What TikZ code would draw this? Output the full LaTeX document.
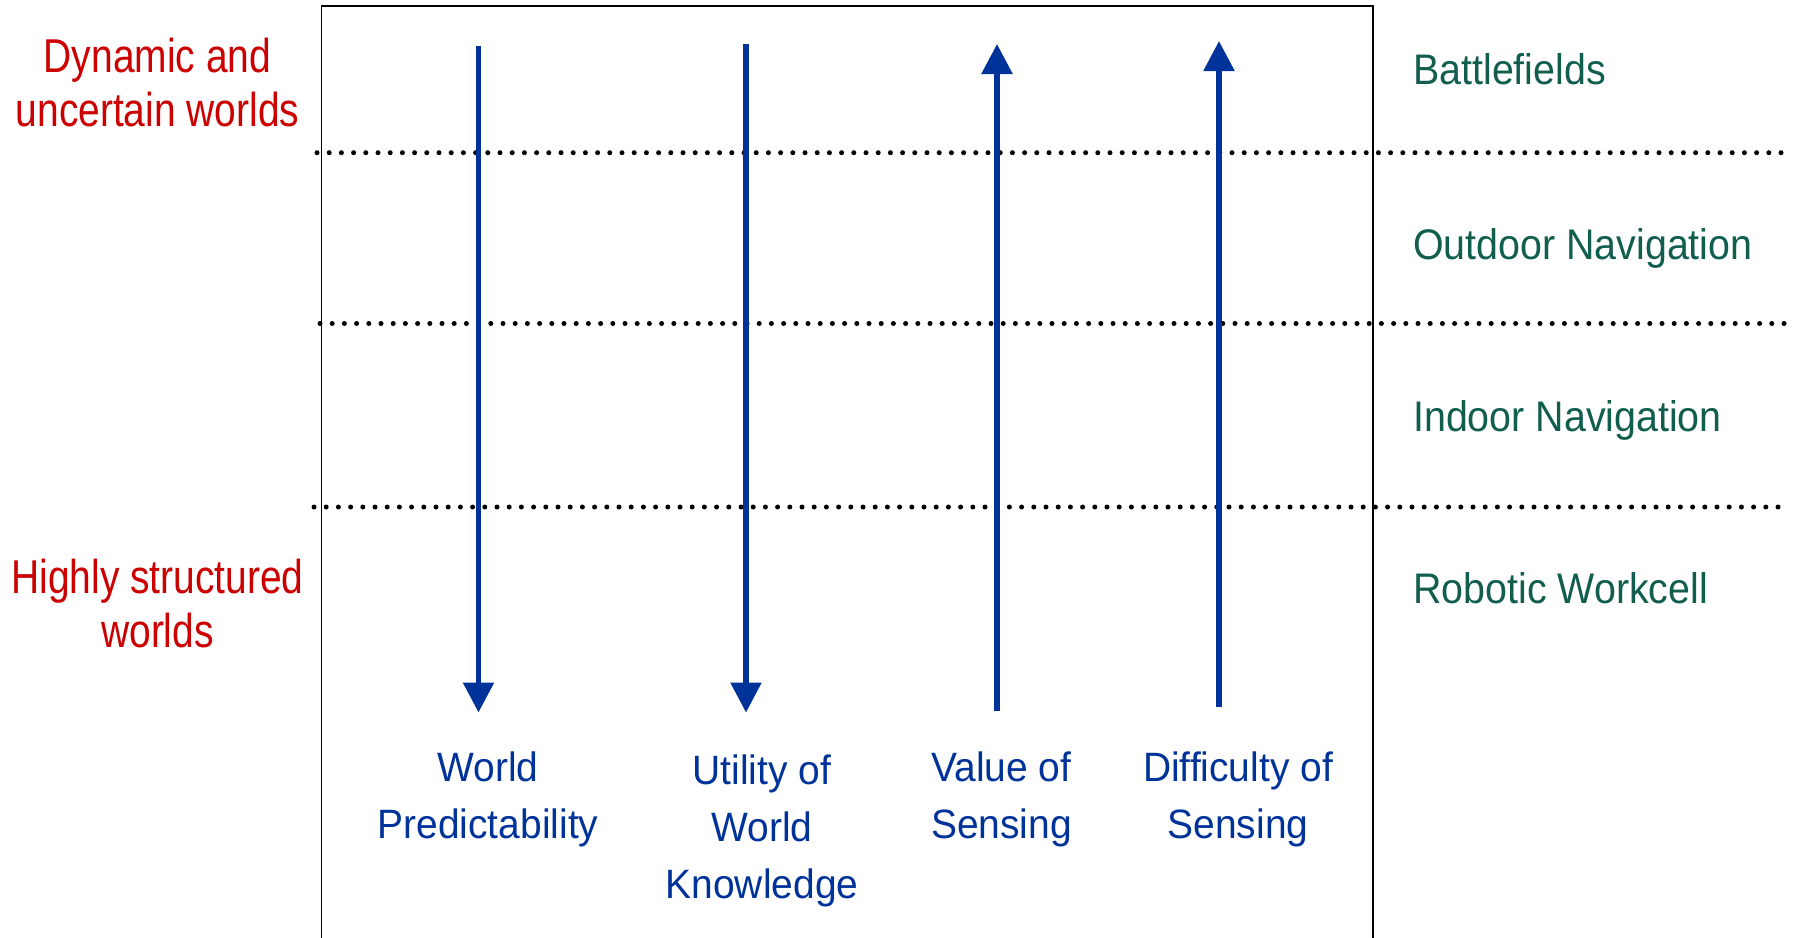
\documentclass[tikz,border=0pt]{standalone}
\usepackage{fontspec}
\setmainfont{Liberation Sans}
\newfontfamily\narrowfont{Liberation Sans}[FakeStretch=0.82]
\newfontfamily\labelfont{Liberation Sans}[FakeStretch=0.95]
\newfontfamily\domainfont{Liberation Sans}[FakeStretch=0.92]
\usetikzlibrary{arrows.meta}
\definecolor{worldred}{RGB}{204,0,0}
\definecolor{axisblue}{RGB}{0,51,153}
\definecolor{domaingreen}{RGB}{17,94,78}
% multi-line labels are anchored at the baseline of their last line
\tikzset{
  worldlabel/.style={inner sep=0pt, align=center, anchor=base, text=worldred,
    font=\narrowfont\fontsize{47.5}{54}\selectfont},
  axislabel/.style={inner sep=0pt, align=center, anchor=base, text=axisblue,
    font=\labelfont\fontsize{41}{57}\selectfont},
  domainlabel/.style={inner sep=0pt, anchor=base west, text=domaingreen,
    font=\domainfont\fontsize{42.8}{50}\selectfont},
  trend/.style={draw=axisblue, line width=5.5pt,
    -{Triangle[length=30pt, width=30pt]}, fill=axisblue},
  divider/.style={line width=5pt, line cap=round, dash pattern=on 0pt off 12.2pt},
  frame/.style={line width=1.5pt}
}
\begin{document}
\begin{tikzpicture}[x=1pt, y=-1pt]
\useasboundingbox (0,0) rectangle (1799,937);
\fill[white] (0,0) rectangle (1799,937);

% frame, open at the bottom edge
\draw[frame] (321.5,945) -- (321.5,6) -- (1373,6) -- (1373,945);

% band dividers
\draw[divider] (317,152.7) -- (1787,152.7);
\draw[divider] (320,323.5) -- (1788,323.5);
\draw[divider] (314,507) -- (1783,507);

% left-hand world labels
\node[worldlabel] (dyn) at (157.5,126) {Dynamic and\\uncertain worlds};
\node[worldlabel] (struct) at (157.5,647) {Highly structured\\worlds};

% right-hand application domains
\node[domainlabel] (battle) at (1413,84) {Battlefields};
\node[domainlabel] (outdoor) at (1413,259) {Outdoor Navigation};
\node[domainlabel] (indoor) at (1413,431.6) {Indoor Navigation};
\node[domainlabel] (workcell) at (1413,603.6) {Robotic Workcell};

% trend arrows
\coordinate (predTop) at (478.5,46);
\coordinate (predTip) at (478.5,712.5);
\coordinate (utilTop) at (746,44);
\coordinate (utilTip) at (746,712.5);
\coordinate (valBot) at (997,711.3);
\coordinate (valTip) at (997,44);
\coordinate (diffBot) at (1219,707);
\coordinate (diffTip) at (1219,41);
\draw[trend] (predTop) -- (predTip);
\draw[trend] (utilTop) -- (utilTip);
\draw[trend] (valBot) -- (valTip);
\draw[trend] (diffBot) -- (diffTip);

% axis labels
\node[axislabel] (pred) at (488,838) {World\\Predictability};
\node[axislabel] (util) at (762,898) {Utility of\\World\\Knowledge};
\node[axislabel] (val) at (1001.5,838) {Value of\\Sensing};
\node[axislabel] (diff) at (1238,838) {Difficulty of\\Sensing};
\end{tikzpicture}
\end{document}
